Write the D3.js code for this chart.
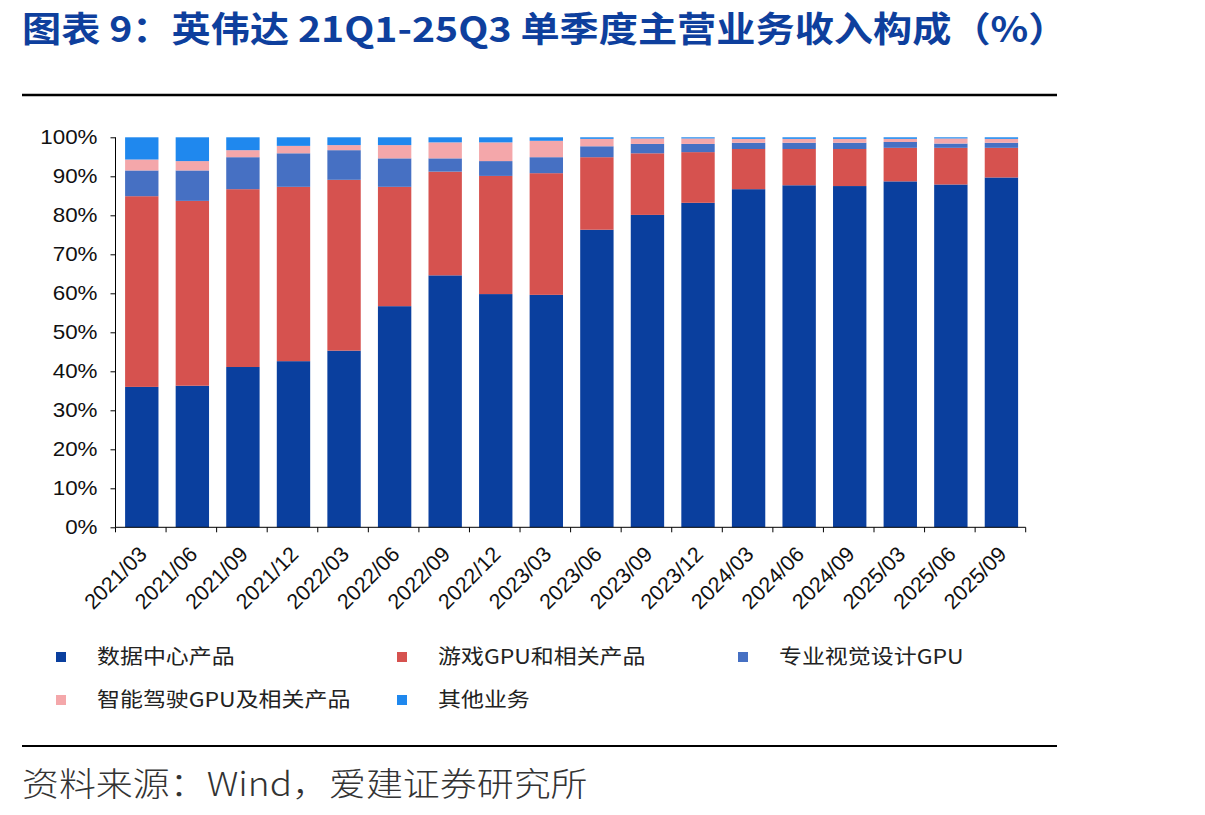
<!DOCTYPE html>
<html>
<head>
<meta charset="utf-8">
<script src="https://cdn.jsdelivr.net/npm/d3@7/dist/d3.min.js"></script>
<style>
  html, body { margin: 0; padding: 0; background: #fff; }
  svg { display: block; }
</style>
</head>
<body>
<svg id="chart" width="1205" height="815"></svg>
<script>
// ---------- data ----------
const categories = ["2021/03","2021/06","2021/09","2021/12","2022/03","2022/06","2022/09","2022/12","2023/03",
                    "2023/06","2023/09","2023/12","2024/03","2024/06","2024/09","2025/03","2025/06","2025/09"];
const seriesNames = ["数据中心产品","游戏GPU和相关产品","专业视觉设计GPU","智能驾驶GPU及相关产品","其他业务"];
const dataCenter   = [36.0,36.3,41.1,42.6,45.3,56.7,64.6,59.8,59.6,76.3,80.1,83.2,86.7,87.7,87.5,88.7,87.9,89.7];
const gaming       = [48.9,47.4,45.6,44.7,43.8,30.6,26.6,30.3,31.2,18.6,15.8,13.0,10.3, 9.3, 9.5, 8.6, 9.4, 7.6];
const proVis       = [ 6.6, 7.8, 8.2, 8.6, 7.6, 7.3, 3.4, 3.8, 4.1, 2.8, 2.4, 2.1, 1.6, 1.6, 1.6, 1.5, 1.1, 1.3];
const automotive   = [ 2.8, 2.4, 1.8, 1.9, 1.3, 3.4, 4.1, 4.8, 4.2, 1.9, 1.4, 1.4, 1.0, 1.0, 1.0, 0.8, 1.3, 1.0];
const others       = [ 5.7, 6.1, 3.3, 2.2, 2.0, 2.0, 1.3, 1.3, 0.9, 0.4, 0.3, 0.3, 0.4, 0.4, 0.4, 0.4, 0.3, 0.4];
const yTicks = [0,10,20,30,40,50,60,70,80,90,100];

const colors = ["#0a3f9e","#d6524f","#4670c3","#f4a7aa","#1f88ee"];
const keys = ["dc","gaming","pro","auto","other"];
const table = categories.map((c,i) => ({cat:c, dc:dataCenter[i], gaming:gaming[i], pro:proVis[i], auto:automotive[i], other:others[i]}));

const svg = d3.select("#chart");
const SX = 1.12; // horizontal stretch of the reference typography

function stretchText(sel, k) {
  sel.each(function() {
    const t = d3.select(this);
    const x = +t.attr("x") || 0;
    t.attr("transform", `translate(${x},0) scale(${k},1) translate(${-x},0)`);
  });
}

// ---------- title ----------
svg.append("text")
  .attr("x", 22).attr("y", 42)
  .attr("font-family", "'Noto Sans CJK SC', sans-serif")
  .attr("font-weight", "bold")
  .attr("font-size", 35)
  .attr("fill", "#0e3f9d")
  .text("图表 9：英伟达 21Q1-25Q3 单季度主营业务收入构成（%）")
  .call(stretchText, SX);

svg.append("line").attr("x1", 22).attr("x2", 1057).attr("y1", 95).attr("y2", 95)
  .attr("stroke", "#000").attr("stroke-width", 2.5);
svg.append("line").attr("x1", 22).attr("x2", 1057).attr("y1", 746).attr("y2", 746)
  .attr("stroke", "#000").attr("stroke-width", 2);

svg.append("text")
  .attr("x", 22).attr("y", 796)
  .attr("font-family", "'Noto Sans CJK SC', sans-serif")
  .attr("font-weight", 300)
  .attr("font-size", 33)
  .attr("fill", "#333")
  .text("资料来源：Wind，爱建证券研究所")
  .call(stretchText, SX);

// ---------- scales ----------
const x = d3.scaleBand().domain(categories).range([115.5, 1025.7]).paddingInner(0.34).paddingOuter(0.17);
const y = d3.scaleLinear().domain([0, 100]).range([527.3, 137.3]);

const stack = d3.stack().keys(keys);
const stacked = stack(table);

const g = svg.append("g");
g.selectAll("g.series").data(stacked).join("g")
  .attr("class", "series")
  .attr("fill", (d,i) => colors[i])
  .selectAll("rect").data(d => d).join("rect")
  .attr("x", d => x(d.data.cat) + 1)
  .attr("width", x.bandwidth())
  .attr("y", d => y(Math.min(100, d[1])))
  .attr("height", d => Math.max(0, y(d[0]) - y(Math.min(100, d[1]))));

// ---------- y axis ----------
const yAxis = d3.axisLeft(y).tickValues(yTicks).tickSize(5).tickPadding(13).tickFormat(d => d + "%");
const ya = svg.append("g").attr("transform", `translate(${x.range()[0]},0)`).call(yAxis);
ya.select(".domain").attr("stroke", "#000").attr("d", `M0,${y(100)}V${y(0)}`);
ya.selectAll(".tick line").attr("stroke", "#000");
ya.selectAll(".tick text")
  .attr("font-family", "'Liberation Sans', Arial, sans-serif")
  .attr("font-size", 20)
  .attr("fill", "#111")
  .attr("x", -18 / SX)
  .attr("transform", `scale(${SX},1)`);

// ---------- x axis ----------
const xa = svg.append("g");
xa.append("line")
  .attr("x1", x.range()[0]).attr("x2", x.range()[1])
  .attr("y1", y(0)).attr("y2", y(0))
  .attr("stroke", "#000");
const bounds = d3.range(categories.length + 1).map(i => x.range()[0] + i * x.step());
xa.selectAll("line.tk").data(bounds).join("line")
  .attr("class", "tk")
  .attr("x1", d => d).attr("x2", d => d)
  .attr("y1", y(0)).attr("y2", y(0) + 5)
  .attr("stroke", "#000");
xa.selectAll("text.xl").data(categories).join("text")
  .attr("class", "xl")
  .attr("transform", d => `translate(${x(d) + x.bandwidth()/2 + 2},${y(0) + 23}) rotate(-45)`)
  .attr("text-anchor", "end")
  .attr("dy", "0.35em")
  .attr("font-family", "'Liberation Sans', Arial, sans-serif")
  .attr("font-size", 21.5)
  .attr("fill", "#111")
  .text(d => d);

// ---------- legend ----------
const legendPos = [
  {sx: 56, tx: 97, y: 657},
  {sx: 397, tx: 438, y: 657},
  {sx: 738, tx: 779, y: 657},
  {sx: 56, tx: 97, y: 700},
  {sx: 397, tx: 438, y: 700}
];
const lg = svg.append("g");
seriesNames.forEach((name, i) => {
  const p = legendPos[i];
  lg.append("rect").attr("x", p.sx).attr("y", p.y - 5).attr("width", 10).attr("height", 10).attr("fill", colors[i]);
  lg.append("text")
    .attr("x", p.tx).attr("y", p.y)
    .attr("dy", "0.36em")
    .attr("font-family", "'Noto Sans CJK SC', sans-serif")
    .attr("font-size", 20.5)
    .attr("fill", "#222")
    .text(name)
    .call(stretchText, SX);
});
</script>
</body>
</html>
